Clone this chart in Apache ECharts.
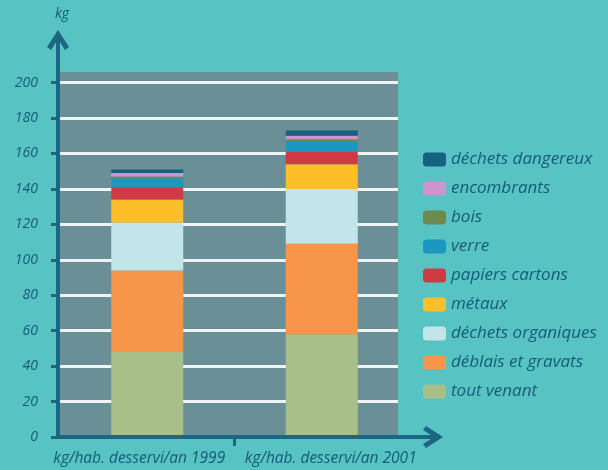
<!DOCTYPE html>
<html>
<head>
<meta charset="utf-8">
<script src="https://cdn.jsdelivr.net/npm/echarts@6/dist/echarts.min.js"></script>
<style>
  html, body { margin: 0; padding: 0; background: #57c3c2; }
  #chart { width: 608px; height: 470px; }
</style>
</head>
<body>
<div id="chart"></div>
<script>
// Categories (one bar per year)
const years = ['kg/hab. desservi/an 1999', 'kg/hab. desservi/an 2001'];

// Waste streams, kg per inhabitant, stacked bottom to top
const toutVenant  = [48, 58];
const deblais     = [46, 51];
const organiques  = [27, 31];
const metaux      = [13, 14];
const papiers     = [7, 7];
const verre       = [5, 6];
const bois        = [1, 1];
const encombrants = [2, 2];
const dangereux   = [2, 3];

// Value-axis tick labels
const yTicks = [0, 20, 40, 60, 80, 100, 120, 140, 160, 180, 200];

const FONT = '"Open Sans", "DejaVu Sans", sans-serif';
const INK = '#175b7a';
const AXIS = '#1b6683';
const PLOT_BG = '#6b8f97';
const Y_MAX = 206;

const streams = [
  { name: 'tout venant',          data: toutVenant,  color: '#a8bf8a' },
  { name: 'déblais et gravats',   data: deblais,     color: '#f7964a' },
  { name: 'déchets organiques',   data: organiques,  color: '#c2e5e9' },
  { name: 'métaux',               data: metaux,      color: '#fcbf2a' },
  { name: 'papiers cartons',      data: papiers,     color: '#cf3a45' },
  { name: 'verre',                data: verre,       color: '#1a98c0' },
  { name: 'bois',                 data: bois,        color: '#6e8a4e' },
  { name: 'encombrants',          data: encombrants, color: '#cf94d0' },
  { name: 'déchets dangereux',    data: dangereux,   color: '#14627f' }
];

// white grid lines; the closing line at the top edge blends into the plot
const splitColors = yTicks.map(() => '#eef4f4').concat([PLOT_BG]);

// chevron arrow head, pointing up (rotated by the axis)
const ARROW = 'path://M0,17 L11,0 L22,17 L18,20 L11,9 L4,20 Z';

// year labels sit slightly apart from each other under the bars
const yearLabels = years.map((y, i) => ({
  value: y,
  textStyle: { padding: i === 0 ? [0, 16, 0, 0] : [0, 0, 0, 18] }
}));

const chart = echarts.init(document.getElementById('chart'), null, { renderer: 'canvas' });

chart.setOption({
  backgroundColor: '#57c3c2',
  animation: false,
  title: {
    text: 'kg',
    left: 50, top: 2,
    textStyle: { fontFamily: FONT, fontStyle: 'italic', fontWeight: 'normal', fontSize: 14, color: INK }
  },
  legend: {
    orient: 'vertical',
    left: 418, top: 146,
    itemWidth: 23, itemHeight: 14,
    itemGap: 12,
    itemTextGap: 11,
    icon: 'roundRect',
    selectedMode: false,
    data: streams.slice().reverse().map(s => s.name),
    textStyle: { fontFamily: FONT, fontStyle: 'italic', fontSize: 17, color: INK }
  },
  grid: [
    // plot background with grid lines and value labels
    { left: 58, right: 210, top: 72, bottom: 33, show: true, backgroundColor: PLOT_BG, borderWidth: 0, outerBoundsMode: 'none' },
    // bars
    { left: 60, right: 199, top: 72, bottom: 33, outerBoundsMode: 'none' },
    // axis lines with arrow heads
    { left: 58, right: 175, top: 40, bottom: 33, outerBoundsMode: 'none' }
  ],
  xAxis: [
    { gridIndex: 0, type: 'value', show: false, min: 0, max: 1 },
    {
      gridIndex: 1, type: 'category', data: yearLabels,
      axisLine: { show: false },
      axisTick: { show: false },
      axisLabel: {
        interval: 0, hideOverlap: false, margin: 14,
        fontFamily: FONT, fontStyle: 'italic', fontSize: 15.5, color: INK
      },
      splitLine: { show: false }
    },
    {
      gridIndex: 2, type: 'value', min: 0, max: 1, z: 5,
      axisLine: { show: true, symbol: ['none', ARROW], symbolSize: [22, 20], lineStyle: { color: AXIS, width: 4 } },
      axisTick: { show: false }, axisLabel: { show: false }, splitLine: { show: false }
    },
    // single divider tick between the two year bands
    {
      gridIndex: 1, type: 'value', min: 0, max: years.length, position: 'bottom', z: 5,
      axisLine: { show: false },
      axisTick: { show: true, customValues: [1], length: 9, lineStyle: { color: AXIS, width: 3 } },
      axisLabel: { show: false }, splitLine: { show: false }
    }
  ],
  yAxis: [
    {
      gridIndex: 0, type: 'value', min: 0, max: Y_MAX, interval: 20,
      axisLine: { show: false },
      axisTick: { show: true, customValues: yTicks, length: 7, lineStyle: { color: AXIS, width: 3 } },
      axisLabel: {
        customValues: yTicks, margin: 20,
        fontFamily: FONT, fontStyle: 'italic', fontSize: 14, color: INK
      },
      splitLine: { show: true, lineStyle: { color: splitColors, width: 3 } }
    },
    { gridIndex: 1, type: 'value', min: 0, max: Y_MAX, show: false },
    {
      gridIndex: 2, type: 'value', min: 0, max: 1, z: 5,
      axisLine: { show: true, symbol: ['none', ARROW], symbolSize: [22, 20], lineStyle: { color: AXIS, width: 4 } },
      axisTick: { show: false }, axisLabel: { show: false }, splitLine: { show: false }
    }
  ],
  series: streams.map(s => ({
    name: s.name,
    type: 'bar',
    stack: 'total',
    xAxisIndex: 1,
    yAxisIndex: 1,
    barWidth: 72,
    data: s.data,
    itemStyle: { color: s.color },
    emphasis: { disabled: true }
  }))
});
</script>
</body>
</html>
